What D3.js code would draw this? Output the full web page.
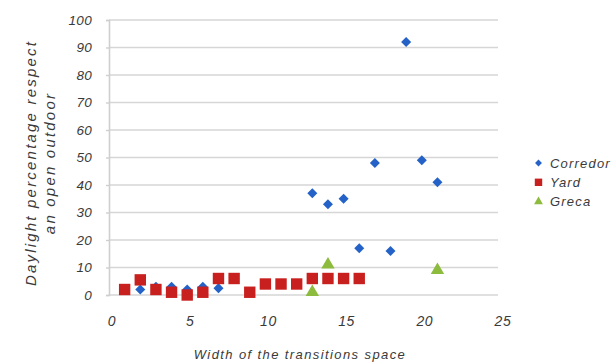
<!DOCTYPE html>
<html>
<head>
<meta charset="utf-8">
<script src="https://cdn.jsdelivr.net/npm/d3@7"></script>
<style>
  html, body { margin: 0; padding: 0; background: #fff; }
  svg text { font-family: "Liberation Sans", Arial, sans-serif; font-style: italic; fill: #3a3a3a; }
</style>
</head>
<body>
<svg id="chart" width="616" height="363"></svg>
<script>
// ---- data ----
const corredorX = [2, 3, 4, 5, 6, 7, 13, 14, 15, 16, 17, 18, 19, 20, 21];
const corredorY = [2, 3, 3, 2, 3, 2.5, 37, 33, 35, 17, 48, 16, 92, 49, 41];
const yardX = [1, 2, 3, 4, 5, 6, 7, 8, 9, 10, 11, 12, 13, 14, 15, 16];
const yardY = [2, 5.5, 2, 1, 0, 1, 6, 6, 1, 4, 4, 4, 6, 6, 6, 6];
const grecaX = [13, 14, 21];
const grecaY = [1, 11, 9];
const seriesNames = ["Corredor", "Yard", "Greca"];
const xTicks = [0, 5, 10, 15, 20, 25];
const yTicks = [0, 10, 20, 30, 40, 50, 60, 70, 80, 90, 100];
const xTitle = "Width of the transitions space";
const yTitleLines = ["Daylight percentage respect", "an open outdoor"];

const colors = { Corredor: "#2462c8", Yard: "#c8201e", Greca: "#8dbb3e" };

const svg = d3.select("#chart");
svg.append("rect").attr("width", 616).attr("height", 363).attr("fill", "#fff");

const x = d3.scaleLinear().domain([0, 25]).range([109, 500]);
const y = d3.scaleLinear().domain([0, 100]).range([295, 20]);

// gridlines
svg.append("g").selectAll("line").data(yTicks).join("line")
  .attr("x1", x(0)).attr("x2", 498)
  .attr("y1", d => y(d)).attr("y2", d => y(d))
  .attr("stroke", "#d6d6d6").attr("stroke-width", 1.6);

// y axis line + ticks
const yAxis = d3.axisLeft(y).tickValues(yTicks).tickSize(3).tickFormat("");
const gy = svg.append("g").attr("transform", `translate(${x(0)},0)`).call(yAxis);
gy.select(".domain").attr("stroke", "#cfcfcf").attr("stroke-width", 1.6);
gy.selectAll(".tick line").attr("stroke", "#cfcfcf").attr("stroke-width", 1.4);

// y tick labels
svg.append("g").selectAll("text").data(yTicks).join("text")
  .attr("x", 92).attr("y", d => y(d)).attr("dy", "0.36em")
  .attr("text-anchor", "end").attr("font-size", 13.5).attr("letter-spacing", 0.3)
  .text(d => d);

// x tick labels
svg.append("g").selectAll("text").data(xTicks).join("text")
  .attr("x", d => x(d) + 3).attr("y", 326)
  .attr("text-anchor", "middle").attr("font-size", 14).attr("letter-spacing", 0.6)
  .text(d => d);

// axis titles
svg.append("text").attr("x", 300).attr("y", 359)
  .attr("text-anchor", "middle").attr("font-size", 13).attr("letter-spacing", 1.4)
  .text(xTitle);
const yt = svg.append("text").attr("transform", "translate(36,163) rotate(-90)")
  .attr("text-anchor", "middle").attr("font-size", 15).attr("letter-spacing", 2.2);
yTitleLines.forEach((t, i) => {
  yt.append("tspan").attr("x", 0).attr("dy", i === 0 ? 0 : 19).text(t);
});

// markers
const sym = {
  Corredor: d3.symbol().type(d3.symbolDiamond2).size(64)(),
  Yard: d3.symbol().type(d3.symbolSquare).size(130)(),
  Greca: d3.symbol().type(d3.symbolTriangle).size(78)()
};
const sets = [
  { name: "Corredor", xs: corredorX, ys: corredorY },
  { name: "Yard", xs: yardX, ys: yardY },
  { name: "Greca", xs: grecaX, ys: grecaY }
];
sets.forEach(s => {
  svg.append("g").selectAll("path").data(s.xs.map((v, i) => [v, s.ys[i]])).join("path")
    .attr("d", sym[s.name])
    .attr("transform", d => `translate(${x(d[0])},${y(d[1])})`)
    .attr("fill", colors[s.name]);
});

// legend
const legSym = {
  Corredor: d3.symbol().type(d3.symbolDiamond2).size(30)(),
  Yard: d3.symbol().type(d3.symbolSquare).size(55)(),
  Greca: d3.symbol().type(d3.symbolTriangle).size(34)()
};
const leg = svg.append("g");
seriesNames.forEach((n, i) => {
  const cy = 163 + i * 19.3;
  leg.append("path").attr("d", legSym[n]).attr("transform", `translate(538.5,${cy})`).attr("fill", colors[n]);
  leg.append("text").attr("x", 550).attr("y", cy).attr("dy", "0.36em")
    .attr("font-size", 13).attr("letter-spacing", 1.2).text(n);
});
</script>
</body>
</html>
